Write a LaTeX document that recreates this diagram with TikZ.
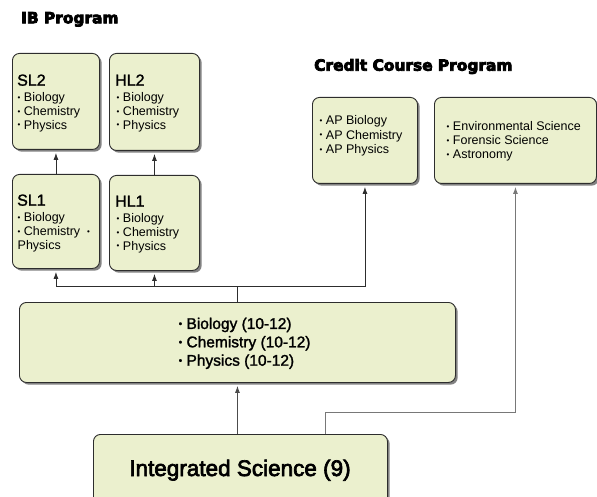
\documentclass[tikz,border=0pt]{standalone}
\usepackage{fontspec}
\setmainfont{Liberation Sans}
\newfontfamily\titlefont{DejaVu Sans Bold}[FakeBold=5]
\newfontfamily\medfont{Liberation Sans}[FakeBold=1.6]
\newfontfamily\intfont{Liberation Sans}[FakeBold=3]
\usetikzlibrary{arrows.meta,shadows}
\definecolor{boxfill}{RGB}{235,240,206}
\definecolor{boxline}{RGB}{45,45,45}
\definecolor{shadowgray}{RGB}{130,130,130}
\definecolor{graylink}{RGB}{120,120,120}
\newcommand\bu{\raisebox{0.11em}{\fontsize{8}{8}\selectfont •}}
\newcommand\bbu{\raisebox{0.12em}{\fontsize{10}{10}\selectfont •}}
\tikzset{
  box/.style={draw=boxline, fill=boxfill, line width=0.9pt, rounded corners=7pt,
    anchor=north west, inner sep=0pt,
    drop shadow={shadow xshift=2.2pt, shadow yshift=-2.2pt, fill=shadowgray, opacity=1}},
  small/.style={inner sep=0pt, anchor=north west, align=left,
    font=\fontsize{12.5}{13.8}\selectfont},
  head/.style={inner sep=0pt, anchor=base west, font=\medfont\fontsize{16}{18}\selectfont},
  mid/.style={inner sep=0pt, anchor=north west, align=left,
    font=\medfont\fontsize{15.5}{18.4}\selectfont},
  ptitle/.style={inner sep=0pt, anchor=base west, font=\titlefont\fontsize{15.4}{18}\selectfont},
  link/.style={draw=boxline, line width=0.8pt},
  glink/.style={draw=graylink, line width=0.9pt},
  arr/.style={link, -{Latex[length=7pt,width=5pt]}, shorten >=3pt},
  garr/.style={glink, -{Latex[length=7pt,width=5pt]}, shorten >=3pt},
}
\begin{document}
\begin{tikzpicture}[x=1pt,y=-1pt]
\useasboundingbox (0,0) rectangle (597,497);

% titles
\node[ptitle] (ibt) at (21,23.3) {IB Program};
\node[ptitle] (cct) at (314,70.7) {Credit Course Program};

% boxes
\node[box, minimum width=87pt, minimum height=96pt] (sl2) at (12,53) {};
\node[box, minimum width=90pt, minimum height=97pt] (hl2) at (109,53) {};
\node[box, minimum width=87pt, minimum height=94pt] (sl1) at (12,174) {};
\node[box, minimum width=90pt, minimum height=95pt] (hl1) at (109,175) {};
\node[box, minimum width=105pt, minimum height=86pt] (ap) at (312,97) {};
\node[box, minimum width=162pt, minimum height=86pt] (env) at (434,97) {};
\node[box, minimum width=436pt, minimum height=80pt] (midb) at (19,302) {};
\node[box, minimum width=294pt, minimum height=80pt] (intb) at (93,434) {};

% texts
\node[head] (sl2h) at (17,85.7) {SL2};
\node[small] (sl2t) at (17.5,92.5) {\bu\ Biology\\\bu\ Chemistry\\\bu\ Physics};
\node[head] (hl2h) at (115,85.7) {HL2};
\node[small] (hl2t) at (116.5,92.5) {\bu\ Biology\\\bu\ Chemistry\\\bu\ Physics};
\node[head] (sl1h) at (17,205.7) {SL1};
\node[small] (sl1t) at (17.5,212.5) {\bu\ Biology\\\bu\ Chemistry\ \ \bu\\Physics};
\node[head] (hl1h) at (115,206.7) {HL1};
\node[small] (hl1t) at (116.5,213.5) {\bu\ Biology\\\bu\ Chemistry\\\bu\ Physics};
\node[small, font=\fontsize{12.5}{14.5}\selectfont] (apt) at (319.5,115.5) {\bu\ AP Biology\\\bu\ AP Chemistry\\\bu\ AP Physics};
\node[small, font=\fontsize{12.5}{14}\selectfont] (envt) at (446.5,121.5) {\bu\ Environmental Science\\\bu\ Forensic Science\\\bu\ Astronomy};
\node[mid] (midt) at (178.5,317.5) {\bbu\ Biology (10-12)\\\bbu\ Chemistry (10-12)\\\bbu\ Physics (10-12)};
\node[inner sep=0pt, anchor=base, font=\intfont\fontsize{22.5}{26}\selectfont] (intt) at (240,476) {Integrated Science (9)};

% connectors
\draw[arr] (sl1.north) -- (sl2.south);
\draw[arr] (hl1.north) -- (hl2.south);
\coordinate (bus) at (midb.north |- 0,286);
\draw[link] (midb.north) -- (bus);
\draw[arr] (bus) -| (sl1.south);
\draw[arr] (bus) -| (hl1.south);
\draw[arr] (bus) -| (ap.south);
\draw[arr, draw=black!70] (intb.north -| midb.south) -- (midb.south);
\coordinate (envstart) at (325,434);
\coordinate (envturn) at (325,412);
\draw[garr] (envstart) -- (envturn) -| (env.south);
\end{tikzpicture}
\end{document}
